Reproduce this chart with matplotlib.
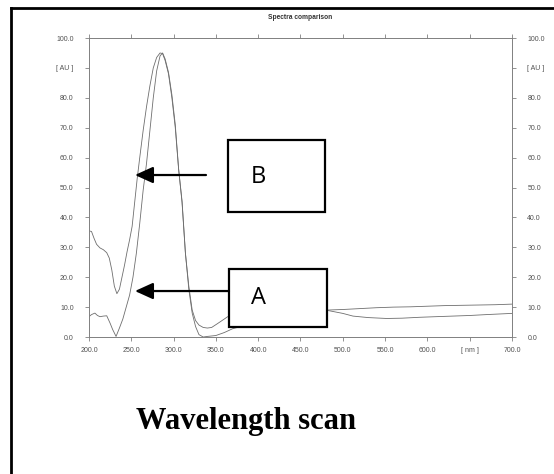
import numpy as np
import matplotlib
matplotlib.use("Agg")
import matplotlib.pyplot as plt
from matplotlib.patches import Rectangle

# absorbance spectra, wavelength [nm] vs absorbance [AU]
wl_a = [200, 203, 207, 210, 213, 217, 221, 225, 228, 232, 236, 240, 244, 248,
        252, 256, 260, 264, 268, 272, 276, 280, 284, 287, 290, 294, 298, 302,
        306, 310, 314, 318, 322, 326, 330, 335, 340, 350, 360, 370, 400, 440,
        480, 500, 520, 540, 560, 580, 600, 620, 640, 660, 680, 700]
abs_a = [6.8, 7.5, 8.0, 7.2, 6.8, 7.0, 7.1, 4.6, 2.5, 0.2, 3.0, 6.0, 10.0, 14.0,
         20.0, 28.0, 38.0, 49.0, 58.0, 69.0, 80.0, 89.0, 94.0, 95.0, 93.0, 88.5, 81.0, 71.0,
         56.0, 45.5, 28.0, 16.0, 8.0, 3.5, 0.8, 0.0, 0.2, 0.5, 1.5, 2.8, 5.0, 7.5,
         9.0, 9.2, 9.5, 9.8, 10.0, 10.1, 10.3, 10.5, 10.6, 10.7, 10.8, 11.0]

wl_b = [200, 203, 206, 209, 213, 217, 221, 224, 227, 230, 233, 236, 239, 242,
        245, 248, 251, 254, 257, 260, 264, 268, 272, 276, 280, 284, 287, 290,
        294, 298, 302, 306, 310, 314, 318, 322, 326, 330, 335, 340, 345, 352,
        364, 380, 420, 480, 500, 512, 530, 552, 570, 591, 610, 630, 650, 670, 700]
abs_b = [35.5, 35.3, 33.0, 31.0, 29.8, 29.2, 28.2, 26.4, 22.4, 17.0, 14.5, 16.0, 20.0, 24.0,
         28.5, 32.5, 37.0, 45.0, 53.0, 60.0, 69.0, 77.0, 84.0, 90.0, 93.5, 95.0, 94.8, 92.5,
         88.0, 80.0, 70.0, 56.0, 45.0, 28.0, 17.0, 9.0, 5.5, 4.0, 3.2, 3.0, 3.2, 4.5,
         6.8, 8.0, 9.0, 9.0, 7.9, 7.0, 6.5, 6.2, 6.3, 6.6, 6.8, 7.0, 7.2, 7.5, 7.9]

x_ticks = np.arange(200, 701, 50)
x_labels = ["200.0", "250.0", "300.0", "350.0", "400.0", "450.0",
            "500.0", "550.0", "600.0", "[ nm ]", "700.0"]
y_ticks = np.arange(0, 101, 10)
y_labels = ["0.0", "10.0", "20.0", "30.0", "40.0", "50.0",
            "60.0", "70.0", "80.0", "[ AU ]", "100.0"]

fig = plt.figure(figsize=(5.54, 4.74), dpi=100)
ax = fig.add_axes([0.1606, 0.289, 0.7636, 0.6308])

grey = "#6e6e6e"
ax.plot(wl_a, abs_a, color=grey, lw=0.6)
ax.plot(wl_b, abs_b, color=grey, lw=0.6)

ax.set_xlim(200, 700)
ax.set_ylim(0, 100)
ax.set_xticks(x_ticks)
ax.set_xticklabels(x_labels)
ax.set_yticks(y_ticks)
ax.set_yticklabels(y_labels)
ax.tick_params(axis="both", which="both", direction="out", length=3, width=0.6,
               color="#808080", labelsize=5.0, labelcolor="#505050",
               top=True, right=True, labelright=True, pad=8)
ax.tick_params(axis="x", pad=4)
for s in ax.spines.values():
    s.set_color("#808080")
    s.set_linewidth(0.7)
for lab in ax.get_xticklabels() + ax.get_yticklabels():
    lab.set_family("Liberation Sans")

ax.set_title("Spectra comparison", fontsize=4.8, family="Liberation Sans",
             fontweight="bold", color="#333333", pad=14)

# labelled boxes with arrows pointing at the two curves
box_kw = dict(transform=ax.transAxes, facecolor="white", edgecolor="black",
              lw=1.6, clip_on=False, zorder=5)
ax.add_patch(Rectangle((0.3286, 0.418), 0.2296, 0.241, **box_kw))
ax.add_patch(Rectangle((0.331, 0.0334), 0.232, 0.194, **box_kw))
ax.text(0.40, 0.535, "B", transform=ax.transAxes, fontsize=17,
        family="Open Sans", ha="center", va="center", zorder=6)
ax.text(0.40, 0.13, "A", transform=ax.transAxes, fontsize=17,
        family="Open Sans", ha="center", va="center", zorder=6)

arrow_kw = dict(arrowstyle="-|>,head_length=1.1,head_width=0.5", color="black",
                lw=1.6, shrinkA=0, shrinkB=0)
ax.annotate("", xy=(0.1087, 0.5418), xytext=(0.2766, 0.5418),
            xycoords="axes fraction", arrowprops=arrow_kw, zorder=6)
ax.annotate("", xy=(0.1087, 0.1538), xytext=(0.331, 0.1538),
            xycoords="axes fraction", arrowprops=arrow_kw, zorder=6)

# page frame lines and caption
fig.add_artist(plt.Line2D([11 / 554, 11 / 554], [0, 1 - 8 / 474], color="black",
                          lw=2, transform=fig.transFigure))
fig.add_artist(plt.Line2D([11 / 554, 1], [1 - 8 / 474, 1 - 8 / 474], color="black",
                          lw=2, transform=fig.transFigure))
fig.text(246 / 554, 1 - 422 / 474, "Wavelength scan", fontsize=22,
         family="Liberation Serif", fontweight="bold", ha="center", va="center")

fig.savefig("out.png", dpi=100)
